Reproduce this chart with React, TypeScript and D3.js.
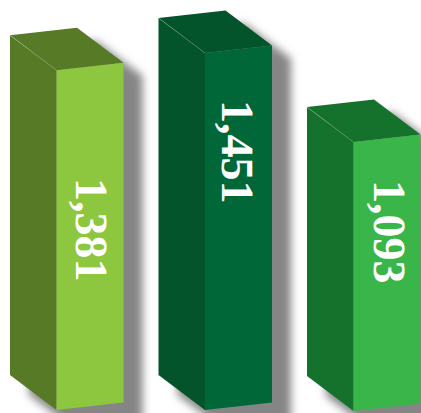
import React from 'react';
import * as d3 from 'd3';

const categories = ['a', 'b', 'c'];
const values = [1381, 1451, 1093];
const frontColors = ['#8dc63f', '#006838', '#39b54a'];
const sideColors = ['#567a26', '#03542b', '#15722c'];

const width = 421;
const height = 413;
const baselines = [375, 375, 376];
// box projection
const depthX = 46.5;
const depthY = 35;
const faceW = 67;
const faceSlope = -7.5;
// shadow offsets
const shadowX = 19;
const shadowTop = 13;
const shadowBottom = 20;
// where each rotated label starts
const labelStart = [178, 100, 180];
const labelInset = [19.5, 16.5, 20.5];

const x = d3.scalePoint<string>().domain(categories).range([10, 307]);
const h = d3.scaleLinear().domain([0, 1451]).range([0, 357]);
const fmt = d3.format(',');

const poly = (pts: [number, number][]) => {
  const p = d3.path();
  pts.forEach((q, i) => (i ? p.lineTo(q[0], q[1]) : p.moveTo(q[0], q[1])));
  p.closePath();
  return p.toString();
};

export default function App() {
  return (
    <svg
      width={width}
      height={height}
      viewBox={`0 0 ${width} ${height}`}
      style={{ position: 'absolute', left: 0, top: 0, background: '#fff' }}
    >
      <defs>
        <filter id="soft" x="-30%" y="-30%" width="170%" height="170%">
          <feGaussianBlur stdDeviation="4.5" />
        </filter>
      </defs>
      {categories.map((c, i) => {
        const x0 = x(c) as number;
        const baseline = baselines[i];
        const top = baseline - h(values[i]);
        const A: [number, number] = [x0, top];
        const B: [number, number] = [x0 + faceW, top + faceSlope];
        const C: [number, number] = [x0 + depthX, top + depthY];
        const D: [number, number] = [x0 + depthX + faceW, top + depthY + faceSlope];
        const Ab: [number, number] = [x0, baseline];
        const Cb: [number, number] = [x0 + depthX, baseline + depthY];
        const Db: [number, number] = [x0 + depthX + faceW, baseline + depthY + faceSlope];
        const lx = x0 + depthX + labelInset[i];
        const shift = (q: [number, number], dy: number): [number, number] => [q[0] + shadowX, q[1] + dy];
        return (
          <g key={c}>
            <path
              d={poly([
                shift(A, shadowTop),
                shift(B, shadowTop),
                shift(D, shadowTop),
                shift(Db, shadowBottom),
                shift(Cb, shadowBottom),
                shift(Ab, shadowBottom),
              ])}
              fill="#858585"
              filter="url(#soft)"
            />
            <path d={poly([A, C, Cb, Ab])} fill={sideColors[i]} />
            <path d={poly([A, B, D, C])} fill={sideColors[i]} />
            <path d={poly([A, C])} fill="none" stroke="#fff" strokeOpacity={0.3} strokeWidth={0.4} />
            <path d={poly([C, D, Db, Cb])} fill={frontColors[i]} />
            <text
              transform={`translate(${lx},${labelStart[i]}) rotate(90)`}
              fontFamily="'Liberation Serif', serif"
              fontSize={46}
              fontWeight="bold"
              textRendering="geometricPrecision"
              fill="#fff"
            >
              {fmt(values[i])}
            </text>
          </g>
        );
      })}
    </svg>
  );
}
